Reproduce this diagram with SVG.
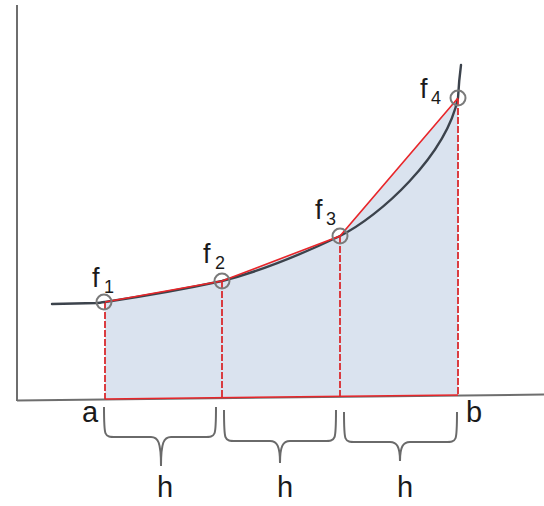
<svg xmlns="http://www.w3.org/2000/svg" width="544" height="506" viewBox="0 0 544 506">
  <style>
    .axis { stroke: #6e6e6e; stroke-width: 2; fill: none; }
    .area { fill: #dae3ef; stroke: none; }
    .chord { stroke: #e8262a; stroke-width: 1.6; fill: none; }
    .ord { stroke: #d92a2e; stroke-width: 1.8; fill: none; stroke-dasharray: 7 2; }
    .curve { stroke: #3c434c; stroke-width: 2.4; fill: none; stroke-linecap: round; }
    .pt { stroke: #7a7a7a; stroke-width: 2; fill: none; }
    .brace { stroke: #6a6a6a; stroke-width: 2; fill: none; stroke-linejoin: round; }
    .lbl { font-family: "Liberation Sans", Arial, sans-serif; fill: #1a1a1a; }
    .big { font-size: 29px; }
    .f { font-size: 27px; }
    .sub { font-size: 18px; }
  </style>

  <g id="axes">
    <line class="axis" x1="17" y1="5" x2="17" y2="401"/>
    <line class="axis" x1="17" y1="400.5" x2="544" y2="394.5"/>
  </g>

  <g id="area">
    <polygon class="area" points="105,302 222,281 340,236 458,98 458,395 105,399"/>
  </g>

  <g id="connectors">
    <path class="curve" d="M52,304 L97,303 C99,302.8 102,302.4 105,302 C145,296 185,289 222,281 C262,271 300,255 340,236 C380,216 446,156 458,98 Q459,80 461,65"/>
    <polyline class="chord" points="105,302 222,281 340,236 458,98"/>
    <line class="chord" x1="105" y1="399" x2="458" y2="395"/>
    <line class="ord" x1="105" y1="303" x2="105" y2="399"/>
    <line class="ord" x1="222" y1="282" x2="222" y2="398"/>
    <line class="ord" x1="340" y1="237" x2="340" y2="397"/>
    <line class="ord" x1="458" y1="99" x2="458" y2="395"/>
  </g>

  <g id="f1">
    <circle class="pt" cx="104" cy="302" r="7.5"/>
    <text class="lbl f" x="92" y="287">f<tspan class="sub" x="104" y="293">1</tspan></text>
  </g>
  <g id="f2">
    <circle class="pt" cx="222" cy="281" r="7.5"/>
    <text class="lbl f" x="203" y="263">f<tspan class="sub" x="215" y="269">2</tspan></text>
  </g>
  <g id="f3">
    <circle class="pt" cx="340" cy="236" r="7.5"/>
    <text class="lbl f" x="315" y="219">f<tspan class="sub" x="326" y="225">3</tspan></text>
  </g>
  <g id="f4">
    <circle class="pt" cx="458" cy="98" r="7.5"/>
    <text class="lbl f" x="420" y="98">f<tspan class="sub" x="431" y="104">4</tspan></text>
  </g>

  <g id="a">
    <text class="lbl big" x="82" y="422">a</text>
  </g>
  <g id="b">
    <text class="lbl big" x="466" y="422">b</text>
  </g>

  <g id="h1">
    <path class="brace" d="M104,407 C104,437 104,437 116,437 L151,437 C158,437 161,442 161,466 M216,407 C216,437 216,437 204,437 L171,437 C164,437 161,442 161,466"/>
    <text class="lbl big" x="157" y="497">h</text>
  </g>
  <g id="h2">
    <path class="brace" d="M224,410 C224,441 224,441 236,441 L270,441 C277,441 280,446 280,463 M336,410 C336,441 336,441 324,441 L290,441 C283,441 280,446 280,463"/>
    <text class="lbl big" x="277" y="497">h</text>
  </g>
  <g id="h3">
    <path class="brace" d="M344,412 C344,442 344,442 356,442 L390,442 C397,442 400,447 400,461 M457,412 C457,442 457,442 445,442 L410,442 C403,442 400,447 400,461"/>
    <text class="lbl big" x="397" y="497">h</text>
  </g>
</svg>
